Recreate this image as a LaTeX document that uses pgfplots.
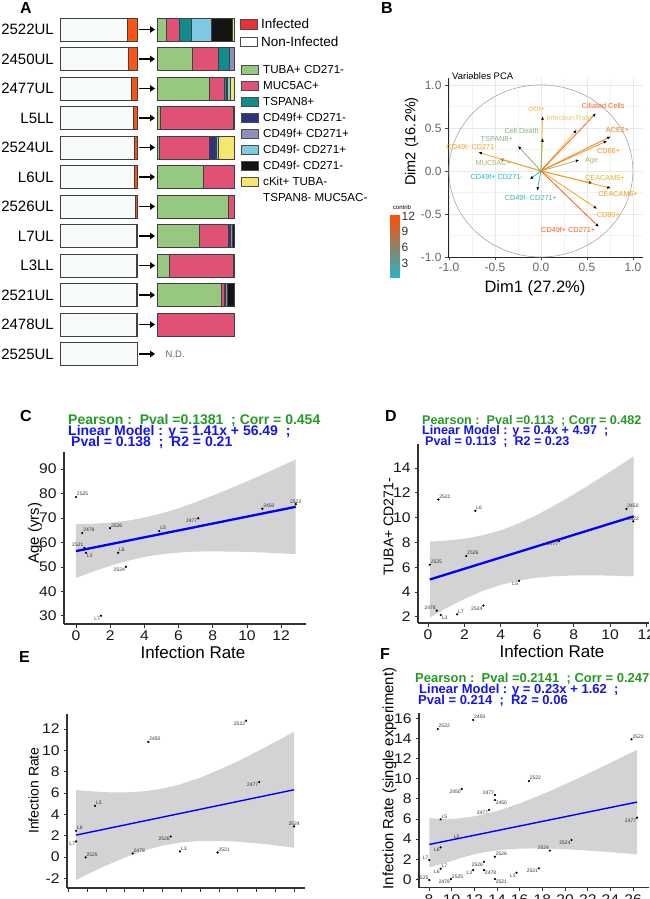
\documentclass[border=0pt]{standalone}
\usepackage{fontspec}
\setmainfont{Liberation Sans}
\usepackage{pgfplots}
\pgfplotsset{compat=1.18}
\usetikzlibrary{arrows.meta}
\newcommand{\fs}[1]{\fontsize{#1}{#1}\selectfont}
\definecolor{cgreen}{RGB}{150,200,128}
\definecolor{cpink}{RGB}{224,82,117}
\definecolor{cteal}{RGB}{16,140,140}
\definecolor{cnavy}{RGB}{46,48,128}
\definecolor{clav}{RGB}{140,142,192}
\definecolor{clblue}{RGB}{126,200,228}
\definecolor{cblack}{RGB}{20,20,20}
\definecolor{cyellow}{RGB}{246,230,110}
\definecolor{cinf}{RGB}{232,50,56}
\definecolor{corange}{RGB}{250,85,20}
\definecolor{cpct}{RGB}{255,87,34}
\definecolor{cboxfill}{RGB}{246,250,250}
\definecolor{cgreenT}{RGB}{35,155,35}
\definecolor{cblueT}{RGB}{20,20,240}
\definecolor{cband}{RGB}{211,211,211}
\definecolor{kOR}{RGB}{248,96,36}
\definecolor{kACE}{RGB}{247,120,30}
\definecolor{kC66}{RGB}{245,144,26}
\definecolor{kIR}{RGB}{232,192,64}
\definecolor{kIRl}{RGB}{230,200,100}
\definecolor{kCK}{RGB}{240,180,40}
\definecolor{kCD}{RGB}{140,176,128}
\definecolor{kTS}{RGB}{128,174,136}
\definecolor{kMU}{RGB}{176,176,96}
\definecolor{kFmm}{RGB}{242,164,30}
\definecolor{kFpm}{RGB}{32,184,200}
\definecolor{kFmp}{RGB}{64,180,180}
\definecolor{kAge}{RGB}{164,176,112}
\definecolor{kC5}{RGB}{224,180,40}
\definecolor{kC6}{RGB}{246,154,24}
\definecolor{kC80}{RGB}{245,164,28}
\definecolor{kFpp}{RGB}{250,90,20}
\definecolor{cbTop}{RGB}{252,78,7}
\definecolor{cbMid}{RGB}{231,184,0}
\definecolor{cbBot}{RGB}{40,180,195}
\newcommand{\lab}[4]{\node[font=\fs{5}, anchor=#3, inner sep=0.8pt, text=black!80] at (axis cs:#1,#2) {#4};}
\pgfplotsset{
  scat/.style={scale only axis, anchor=south west, axis lines=left,
    axis line style={-, black!80, line width=1.1pt},
    tick style={black!80, line width=0.9pt}, major tick length=3.5pt, tick align=outside,
    ticklabel style={font=\fs{14}, text=black!90, xscale=1.12},
    /pgf/number format/assume math mode=true, clip=false},
  pca/.style={line width=0.8pt, -{Latex[length=3.5pt,width=3pt,color=black]}},
  stk/.style={draw=black!75, line width=0.6pt}
}
\begin{document}
\begin{tikzpicture}
\path[use as bounding box] (0,0) rectangle (649pt,-899pt);
% panel letters
\node[anchor=base west, inner sep=0, font=\fs{16}\bfseries] at (20pt,-14pt) {A};
\node[anchor=base west, inner sep=0, font=\fs{16}\bfseries] at (381pt,-14pt) {B};
\node[anchor=base west, inner sep=0, font=\fs{16}\bfseries] at (20pt,-421pt) {C};
\node[anchor=base west, inner sep=0, font=\fs{16}\bfseries] at (385pt,-421pt) {D};
\node[anchor=base west, inner sep=0, font=\fs{16}\bfseries] at (19pt,-662pt) {E};
\node[anchor=base west, inner sep=0, font=\fs{16}\bfseries] at (380pt,-659pt) {F};

% ===== Panel A left boxes
\begin{axis}[at={(60pt,-368.75pt)}, anchor=south west, scale only axis, width=77pt, height=354pt,
  xmin=0, xmax=100, ymin=0.5, ymax=12.5, y dir=reverse, xbar stacked, bar width=23pt,
  axis line style={draw=none}, xtick=\empty, ytick={1,...,12},
  yticklabels={2522UL,2450UL,2477UL,L5LL,2524UL,L6UL,2526UL,L7UL,L3LL,2521UL,2478UL,2525UL},
  major tick length=0pt, yticklabel style={font=\fs{15}, inner sep=0pt, xshift=-6pt}, clip=false]
\addplot[fill=cboxfill, stk] coordinates {(87,1)(89,2)(93,3)(95,4)(96.5,5)(97,6)(98,7)(98.5,8)(99.3,9)(99.3,10)(99.6,11)(100,12)};
\addplot[fill=corange, stk] coordinates {(13,1)(11,2)(7,3)(5,4)(3.5,5)(3,6)(2,7)(1.5,8)(0.7,9)(0.7,10)(0.4,11)(0,12)};
\node[font=\fs{14.5}, text=cpct] at (axis cs:53,1) {13\%};
\node[font=\fs{14.5}, text=cpct] at (axis cs:53,2) {11\%};
\node[font=\fs{14.5}, text=cpct] at (axis cs:53,3) {7\%};
\node[font=\fs{14.5}, text=cpct] at (axis cs:53,4) {5\%};
\node[font=\fs{14.5}, text=cpct] at (axis cs:53,5) {3\%};
\node[font=\fs{14.5}, text=cpct] at (axis cs:53,6) {3\%};
\node[font=\fs{14.5}, text=cpct] at (axis cs:53,7) {2\%};
\node[font=\fs{14.5}, text=cpct] at (axis cs:53,8) {2\%};
\node[font=\fs{14.5}, text=cpct] at (axis cs:53,9) {1\%};
\node[font=\fs{14.5}, text=cpct] at (axis cs:53,10) {1\%};
\node[font=\fs{14.5}, text=cpct] at (axis cs:53,11) {<1\%};
\node[font=\fs{14.5}, text=cpct] at (axis cs:53,12) {0\%};
\end{axis}
% arrows
\foreach \r in {0,...,11}{
  \draw[-{Triangle[length=5pt,width=6.5pt]}, line width=1.6pt] (139pt,{-29.5pt-29.5pt*\r}) -- (155pt,{-29.5pt-29.5pt*\r});
}
% ===== Panel A right stacked bars
\begin{axis}[at={(157pt,-368.75pt)}, anchor=south west, scale only axis, width=77pt, height=354pt,
  xmin=0, xmax=100, ymin=0.5, ymax=12.5, y dir=reverse, xbar stacked, bar width=23pt, hide axis, clip=false]
\addplot[fill=cgreen, stk] coordinates {(11.5,1)(46,2)(68,3)(4.9,4)(3.5,5)(60,6)(92.6,7)(55,8)(15.4,9)(83.8,10)(0,11)};
\addplot[fill=cpink, stk] coordinates {(17.7,1)(34,2)(19.7,3)(93.8,4)(65,5)(40,6)(7.4,7)(37.5,8)(83.3,9)(3.9,10)(100,11)};
\addplot[fill=cteal, stk] coordinates {(15.5,1)(13.3,2)(2,3)(0,4)(0,5)(0,6)(0,7)(0,8)(0,9)(0,10)(0,11)};
\addplot[fill=cnavy, stk] coordinates {(0,1)(0,2)(1.8,3)(0,4)(7,5)(0,6)(0,7)(3,8)(0,9)(1.5,10)(0,11)};
\addplot[fill=clav, stk] coordinates {(0,1)(6.7,2)(0,3)(0,4)(2,5)(0,6)(0,7)(2.6,8)(0,9)(1.5,10)(0,11)};
\addplot[fill=clblue, stk] coordinates {(25.7,1)(0,2)(4,3)(0,4)(2.5,5)(0,6)(0,7)(0,8)(0,9)(0,10)(0,11)};
\addplot[fill=cblack, stk] coordinates {(27.4,1)(0,2)(0,3)(1.3,4)(0,5)(0,6)(0,7)(1.9,8)(1.3,9)(9.3,10)(0,11)};
\addplot[fill=cyellow, stk] coordinates {(2.2,1)(0,2)(4.5,3)(0,4)(20,5)(0,6)(0,7)(0,8)(0,9)(0,10)(0,11)};
\node[font=\fs{9.5}, text=black!60, anchor=west, inner sep=0] at (axis cs:11,12) {N.D.};
\end{axis}
% legend A
\draw[fill=cinf, draw=black!70, line width=0.6pt] (240pt,-19pt) rectangle (257pt,-29pt);
\draw[fill=white, draw=black!70, line width=0.6pt] (240pt,-37pt) rectangle (257pt,-46pt);
\node[anchor=west, inner sep=0, font=\fs{13.5}] at (261pt,-24pt) {Infected};
\node[anchor=west, inner sep=0, font=\fs{13.5}] at (261pt,-41.5pt) {Non-Infected};
\foreach \c/\t [count=\i from 0] in {cgreen/TUBA+ CD271-, cpink/MUC5AC+, cteal/TSPAN8+, cnavy/CD49f+ CD271-, clav/CD49f+ CD271+, clblue/CD49f- CD271+, cblack/CD49f- CD271-, cyellow/cKit+ TUBA-}{
  \draw[fill=\c, draw=black!70, line width=0.6pt] (241pt,{-65pt-16pt*\i}) rectangle (258pt,{-74pt-16pt*\i});
  \node[anchor=west, inner sep=0, font=\fs{11.6}] at (263pt,{-69.5pt-16pt*\i}) {\t};
}
\node[anchor=west, inner sep=0, font=\fs{11.6}] at (263pt,-198pt) {TSPAN8- MUC5AC-};

% ===== Panel B
\node[anchor=base west, inner sep=0, font=\fs{9.5}] at (452pt,-79.5pt) {Variables PCA};
\node[anchor=base, inner sep=0, font=\fs{16.5}] at (535pt,-292pt) {Dim1 (27.2\%)};
\node[rotate=90, inner sep=0, font=\fs{14.5}] at (411.5pt,-141.5pt) {Dim2 (16.2\%)};
\begin{axis}[at={(448pt,-257pt)}, anchor=south west, scale only axis, width=195pt, height=179pt,
  xmin=-1.01, xmax=1.11, ymin=-1, ymax=1.08, axis lines=left,
  axis line style={-, black!85, line width=0.8pt},
  xtick={-1,-0.5,0,0.5,1}, ytick={-1,-0.5,0,0.5,1},
  xticklabels={-1.0,-0.5,0.0,0.5,1.0}, yticklabels={-1.0,-0.5,0.0,0.5,1.0},
  minor xtick={-0.75,-0.25,0.25,0.75}, minor ytick={-0.75,-0.25,0.25,0.75},
  grid=both, major grid style={black!9, line width=0.6pt}, minor grid style={black!5, line width=0.4pt},
  tick style={black!70, line width=0.6pt}, major tick length=3pt, minor tick length=0pt, tick align=outside,
  ticklabel style={font=\fs{12}, text=black!60}, clip=false]
\draw[black!35, line width=0.6pt] (axis cs:0,0) ellipse [x radius=1, y radius=1];
\addplot[pca, kCK] coordinates {(0,0)(0.018,0.636)};
\addplot[pca, kCD] coordinates {(0,0)(0.018,0.38)};
\addplot[pca, kIR] coordinates {(0,0)(0.388,0.477)};
\addplot[pca, kOR] coordinates {(0,0)(0.598,0.67)};
\addplot[pca, kACE] coordinates {(0,0)(0.757,0.40)};
\addplot[pca, kC66] coordinates {(0,0)(0.72,0.35)};
\addplot[pca, kAge] coordinates {(0,0)(0.417,0.128)};
\addplot[pca, kC5] coordinates {(0,0)(0.56,-0.143)};
\addplot[pca, kC6] coordinates {(0,0)(0.76,-0.20)};
\addplot[pca, kC80] coordinates {(0,0)(0.61,-0.44)};
\addplot[pca, kFpp] coordinates {(0,0)(0.63,-0.65)};
\addplot[pca, kFmp] coordinates {(0,0)(-0.04,-0.23)};
\addplot[pca, kFpm] coordinates {(0,0)(-0.12,-0.097)};
\addplot[pca, kMU] coordinates {(0,0)(-0.446,0.14)};
\addplot[pca, kFmm] coordinates {(0,0)(-0.68,0.217)};
\addplot[pca, kTS] coordinates {(0,0)(-0.25,0.29)};
\node[font=\fs{7.3}, text=kCK, inner sep=0] at (axis cs:-0.047,0.72) {cKit+};
\node[font=\fs{7.3}, text=kIRl, inner sep=0, anchor=west] at (axis cs:0.06,0.616) {Infection Rate};
\node[font=\fs{7.3}, text=kCD, inner sep=0] at (axis cs:-0.21,0.465) {Cell Death};
\node[font=\fs{7.3}, text=kTS, inner sep=0] at (axis cs:-0.48,0.372) {TSPAN8+};
\node[font=\fs{7.3}, text=kFmm, inner sep=0] at (axis cs:-0.753,0.283) {CD49f- CD271-};
\node[font=\fs{7.3}, text=kMU, inner sep=0] at (axis cs:-0.518,0.09) {MUC5AC+};
\node[font=\fs{7.3}, text=kFpm, inner sep=0] at (axis cs:-0.48,-0.073) {CD49f+ CD271-};
\node[font=\fs{7.3}, text=kFmp, inner sep=0] at (axis cs:-0.109,-0.317) {CD49f- CD271+};
\node[font=\fs{7.3}, text=kOR, inner sep=0] at (axis cs:0.677,0.752) {Ciliated Cells};
\node[font=\fs{7.3}, text=kACE, inner sep=0] at (axis cs:0.833,0.477) {ACE2+};
\node[font=\fs{7.3}, text=kC66, inner sep=0] at (axis cs:0.736,0.229) {CD66+};
\node[font=\fs{7.3}, text=kAge, inner sep=0] at (axis cs:0.551,0.113) {Age};
\node[font=\fs{7.3}, text=kC5, inner sep=0] at (axis cs:0.696,-0.085) {CEACAM5+};
\node[font=\fs{7.3}, text=kC6, inner sep=0] at (axis cs:0.84,-0.267) {CEACAM6+};
\node[font=\fs{7.3}, text=kC80, inner sep=0] at (axis cs:0.732,-0.508) {CD80+};
\node[font=\fs{7.3}, text=kFpp, inner sep=0] at (axis cs:0.297,-0.686) {CD49f+ CD271+};
\end{axis}
% colorbar
\node[font=\fs{6}, inner sep=0] at (402pt,-207.5pt) {contrib};
\shade[top color=cbTop, middle color=cbMid, bottom color=cbBot] (390pt,-215pt) rectangle (400pt,-277pt);
\node[anchor=west, inner sep=0, font=\fs{12}, text=black!80] at (401.5pt,-216pt) {12};
\node[anchor=west, inner sep=0, font=\fs{12}, text=black!80] at (401.5pt,-231.5pt) {9};
\node[anchor=west, inner sep=0, font=\fs{12}, text=black!80] at (401.5pt,-247pt) {6};
\node[anchor=west, inner sep=0, font=\fs{12}, text=black!80] at (401.5pt,-263pt) {3};

% ===== Panel C
\node[anchor=base west, inner sep=0, font=\fs{14}\bfseries, text=cgreenT] at (68pt,-424pt) {Pearson :~~Pval =0.1381~~; Corr = 0.454};
\node[anchor=base west, inner sep=0, font=\fs{14}\bfseries, text=cblueT] at (68pt,-435.5pt) {Linear Model : y = 1.41x + 56.49~~;};
\node[anchor=base west, inner sep=0, font=\fs{14}\bfseries, text=cblueT] at (71pt,-446.5pt) {Pval = 0.138~~;~~R2 = 0.21};
\node[anchor=base, inner sep=0, font=\fs{17}] at (193pt,-658pt) {Infection Rate};
\node[rotate=90, inner sep=0, font=\fs{15}] at (35pt,-533pt) {Age (yrs)};
\begin{axis}[scat, at={(64pt,-624pt)}, width=242pt, height=172pt, xmin=-0.7, xmax=13.45, ymin=26.7, ymax=97,
  xtick={0,2,...,12}, ytick={30,40,...,90}]
\addplot[fill=cband, draw=none] coordinates {(0,67.5)(1,67.7)(2,68.1)(3,68.9)(4,70.2)(5,71.9)(6,74.0)(7,76.5)(8,79.2)(9,82.0)(10,85.0)(11,88.1)(12,91.2)(12.85,94.0)
 (12.85,55.3)(12,55.6)(11,55.9)(10,56.2)(9,56.3)(8,56.4)(7,56.3)(6,55.9)(5,55.2)(4,54.1)(3,52.5)(2,50.5)(1,48.1)(0,45.5)} -- cycle;
\addplot[blue, line width=2.3pt] coordinates {(0,56.49)(12.85,74.6)};
\addplot[only marks, mark=*, mark size=0.9pt, black] coordinates {(0,78.6)(0.37,63.9)(0.49,57.8)(0.58,55.8)(1.46,30.1)(1.99,65.9)(2.47,55.8)(2.92,50.1)(4.87,64.7)(7.15,69.9)(10.9,73.8)(12.85,75.7)};
\lab{0}{78.6}{south west}{2525}
\lab{0.37}{63.9}{south west}{2478}
\lab{0.49}{57.8}{south east}{2521}
\lab{0.58}{55.8}{north west}{L3}
\lab{1.46}{30.1}{north east}{L7}
\lab{1.99}{65.9}{south west}{2526}
\lab{2.47}{55.8}{south west}{L6}
\lab{2.92}{50.1}{north east}{2524}
\lab{4.87}{64.7}{south west}{L5}
\lab{7.15}{69.9}{north east}{2477}
\lab{10.9}{73.8}{south west}{2450}
\lab{12.85}{75.7}{south}{2522}
\end{axis}

% ===== Panel D
\node[anchor=base west, inner sep=0, font=\fs{12.6}\bfseries, text=cgreenT] at (422pt,-424pt) {Pearson :~~Pval =0.113~~; Corr = 0.482};
\node[anchor=base west, inner sep=0, font=\fs{12.6}\bfseries, text=cblueT] at (422pt,-434.5pt) {Linear Model : y = 0.4x + 4.97~~;};
\node[anchor=base west, inner sep=0, font=\fs{12.6}\bfseries, text=cblueT] at (425pt,-445.5pt) {Pval = 0.113~~;~~R2 = 0.23};
\node[anchor=base, inner sep=0, font=\fs{17}] at (552pt,-657.5pt) {Infection Rate};
\node[rotate=90, inner sep=0, font=\fs{14}] at (388.5pt,-527pt) {TUBA+ CD271-};
\begin{axis}[scat, at={(418pt,-623pt)}, width=231pt, height=178.6pt, xmin=-0.55, xmax=12.14, ymin=1.5, ymax=15.9,
  xtick={0,2,...,12}, ytick={2,4,...,14}]
\addplot[fill=cband, draw=none] coordinates {(0.1,8.07)(1,8.14)(2,8.30)(3,8.57)(4,8.98)(5,9.54)(6,10.22)(7,11.02)(8,11.87)(9,12.77)(10,13.70)(11,14.66)(11.3,14.95)
 (11.3,5.25)(11,5.28)(10,5.32)(9,5.35)(8,5.33)(7,5.28)(6,5.16)(5,4.94)(4,4.58)(3,4.09)(2,3.44)(1,2.70)(0.1,1.95)} -- cycle;
\addplot[blue, line width=2.3pt] coordinates {(0.1,5.01)(11.3,10.1)};
\addplot[only marks, mark=*, mark size=0.9pt, black] coordinates {(0.57,11.46)(2.6,10.55)(10.9,10.7)(11.28,9.7)(7.2,8.1)(2.1,6.9)(0.1,6.2)(5.0,4.9)(0.48,2.5)(0.7,2.15)(1.6,2.2)(3.04,2.9)};
\lab{0.57}{11.46}{south west}{2521}
\lab{2.6}{10.55}{south west}{L6}
\lab{10.9}{10.7}{south west}{2450}
\lab{11.28}{9.7}{south}{2522}
\lab{7.2}{8.1}{north east}{2477}
\lab{2.1}{6.9}{south west}{2526}
\lab{0.1}{6.2}{south west}{2525}
\lab{5.0}{4.9}{north east}{L5}
\lab{0.48}{2.5}{south east}{2478}
\lab{0.7}{2.15}{north west}{L3}
\lab{1.6}{2.2}{south west}{L7}
\lab{3.04}{2.9}{north east}{2524}
\end{axis}

% ===== Panel E
\node[rotate=90, inner sep=0, font=\fs{14}] at (33.5pt,-790.5pt) {Infection Rate};
\begin{axis}[scat, at={(67pt,-888pt)}, width=238pt, height=174.3pt, xmin=-0.07, xmax=12.57, ymin=-2.9, ymax=13.44,
  xtick={0,...,12}, xticklabels={,,,,,,,,,,,,}, ytick={-2,0,...,12}]
\addplot[fill=cband, draw=none] coordinates {(0.41,6.28)(1,6.19)(2,6.08)(3,6.06)(4,6.16)(5,6.42)(6,6.85)(7,7.44)(8,8.17)(9,8.98)(10,9.87)(11,10.80)(11.99,11.75)
 (11.99,0.87)(11,1.10)(10,1.29)(9,1.44)(8,1.53)(7,1.52)(6,1.37)(5,1.08)(4,0.60)(3,-0.04)(2,-0.80)(1,-1.63)(0.41,-2.16)} -- cycle;
\addplot[blue, line width=1.4pt] coordinates {(0.41,2.06)(11.99,6.31)};
\addplot[only marks, mark=*, mark size=0.9pt, black] coordinates {(0.41,2.47)(0.41,1.47)(1.42,4.81)(0.92,-0.03)(4.25,10.79)(3.42,0.34)(5.44,1.93)(5.93,0.53)(7.93,0.43)(9.44,12.79)(10.14,7.04)(11.99,2.87)};
\lab{0.41}{2.47}{south west}{L6}
\lab{0.41}{1.47}{north east}{L7}
\lab{1.42}{4.81}{south west}{L5}
\lab{0.92}{-0.03}{south west}{2525}
\lab{4.25}{10.79}{south west}{2450}
\lab{3.42}{0.34}{south west}{2478}
\lab{5.44}{1.93}{north east}{2526}
\lab{5.93}{0.53}{south west}{L3}
\lab{7.93}{0.43}{south west}{2521}
\lab{9.44}{12.79}{north east}{2522}
\lab{10.14}{7.04}{north east}{2477}
\lab{11.99}{2.87}{south}{2524}
\end{axis}

% ===== Panel F
\node[anchor=base west, inner sep=0, font=\fs{13}\bfseries, text=cgreenT] at (415pt,-682pt) {Pearson :~~Pval =0.2141~~; Corr = 0.247};
\node[anchor=base west, inner sep=0, font=\fs{13}\bfseries, text=cblueT] at (419pt,-693pt) {Linear Model : y = 0.23x + 1.62~~;};
\node[anchor=base west, inner sep=0, font=\fs{13}\bfseries, text=cblueT] at (418pt,-704pt) {Pval = 0.214~~;~~R2 = 0.06};
\node[rotate=90, inner sep=0, font=\fs{14.8}] at (389.5pt,-778.5pt) {Infection Rate (single experiment)};
\begin{axis}[scat, at={(419pt,-887.7pt)}, width=230pt, height=174.4pt, xmin=7.12, xmax=27.4, ymin=-0.83, ymax=16.5,
  xtick={8,10,...,26}, ytick={0,2,...,16}]
\addplot[fill=cband, draw=none] coordinates {(8.03,6.1)(9,6.0)(10,6.00)(11,6.11)(12,6.27)(13,6.50)(14,6.80)(15,7.15)(16,7.55)(17,7.99)(18,8.45)(19,8.94)(20,9.45)(21,9.97)(22,10.50)(23,11.04)(24,11.58)(25,12.13)(26.35,12.88)
 (26.35,2.48)(25,2.61)(24,2.70)(23,2.78)(22,2.86)(21,2.93)(20,2.99)(19,3.04)(18,3.07)(17,3.07)(16,3.05)(15,2.99)(14,2.88)(13,2.72)(12,2.49)(11,2.19)(10,1.84)(9,1.5)(8.03,1.2)} -- cycle;
\addplot[blue, line width=1.4pt] coordinates {(8.03,3.47)(26.35,7.68)};
\addplot[only marks, mark=*, mark size=0.9pt, black] coordinates {(8.77,14.94)(11.9,15.84)(25.86,13.92)(16.81,9.77)(10.88,8.98)(13.81,8.38)(13.81,7.88)(13.29,6.89)(9.03,5.96)(26.35,6.13)(9.03,3.18)(20.57,3.91)(18.66,2.85)(13.81,2.25)(8.03,1.92)(12.85,1.75)(9.03,1.06)(11.9,0.92)(12.85,0.92)(17.69,1.09)(15.72,0.66)(9.94,0.03)(13.81,0.03)(8.03,-0.07)};
\lab{8.77}{14.94}{south west}{2522}
\lab{11.9}{15.84}{south west}{2450}
\lab{25.86}{13.92}{south west}{2522}
\lab{16.81}{9.77}{south west}{2522}
\lab{10.88}{8.98}{north east}{2450}
\lab{13.81}{8.38}{south east}{2477}
\lab{13.81}{7.88}{north west}{2450}
\lab{13.29}{6.89}{north east}{2477}
\lab{9.03}{5.96}{south west}{L5}
\lab{26.35}{6.13}{north east}{2477}
\lab{9.03}{3.18}{north east}{L6}
\node[font=\fs{5}, inner sep=0.8pt, text=black!80] at (axis cs:10.44,4.23) {L5};
\lab{20.57}{3.91}{north east}{2524}
\lab{18.66}{2.85}{south east}{2524}
\lab{13.81}{2.25}{south west}{2526}
\lab{8.03}{1.92}{south east}{L7}
\lab{12.85}{1.75}{north east}{2526}
\lab{9.03}{1.06}{north east}{L6}
\lab{9.03}{1.06}{south west}{L7}
\lab{11.9}{0.92}{north east}{L3}
\lab{12.85}{0.92}{north west}{2478}
\lab{17.69}{1.09}{north east}{2521}
\lab{15.72}{0.66}{north east}{L3}
\lab{9.94}{0.03}{south west}{2525}
\lab{9.94}{0.03}{north east}{2478}
\lab{13.81}{0.03}{north west}{2521}
\lab{8.03}{-0.07}{south east}{2525}
\end{axis}
\end{tikzpicture}
\end{document}
